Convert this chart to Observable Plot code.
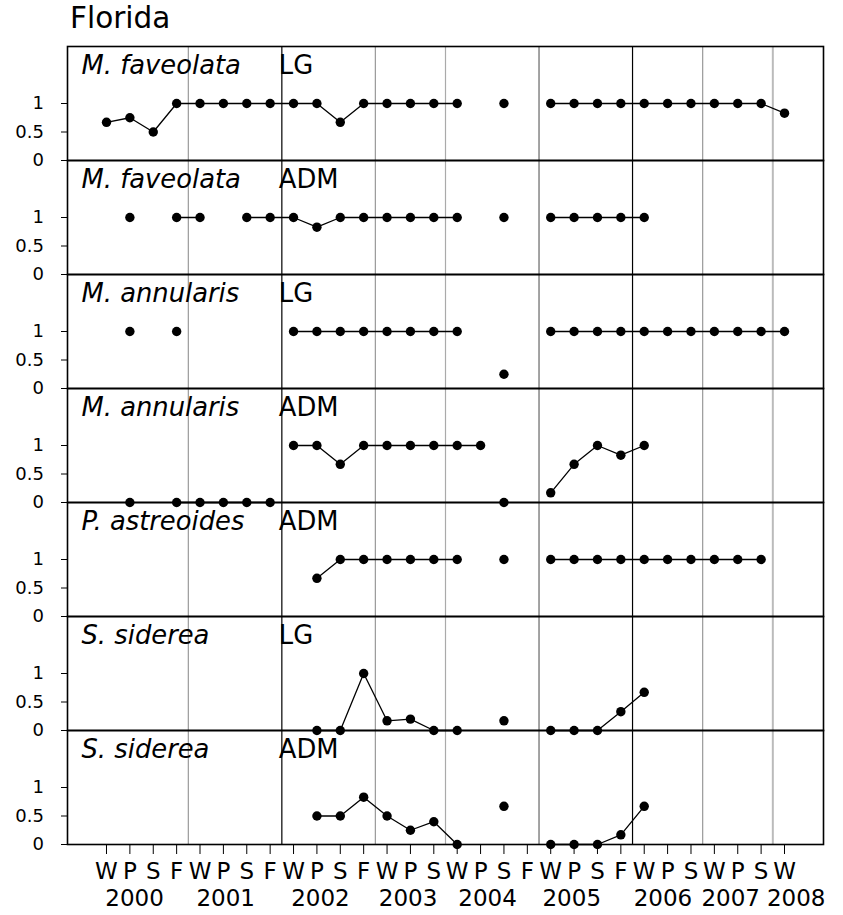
<!DOCTYPE html>
<html><head><meta charset="utf-8">
<script src="https://cdn.jsdelivr.net/npm/d3@7"></script>
<script src="https://cdn.jsdelivr.net/npm/@observablehq/plot@0.6"></script>
<style>
body{margin:0;background:#fff;font-family:"DejaVu Sans",sans-serif;}
#title{height:42px;position:relative;}
#title span{position:absolute;left:70px;top:4px;font-size:29.5px;line-height:29px;color:#000;}
</style></head><body>
<div id="title"><span>Florida</span></div>
<div id="chart"></div>
<script>
// x-axis categories
const seasons = ["W","P","S","F","W","P","S","F","W","P","S","F","W","P","S","W","P","S","F","W","P","S","F","W","P","S","W","P","S","W"];
const years = [2000,2001,2002,2003,2004,2005,2006,2007,2008];
const yearLabelAt = [1.2,5.1,9.15,12.9,16.3,19.9,23.8,26.7,29.5];
const yTicks = [0,0.5,1];

// panel labels
const species = ["M. faveolata","M. faveolata","M. annularis","M. annularis","P. astreoides","S. siderea","S. siderea"];
const methods = ["LG","ADM","LG","ADM","ADM","LG","ADM"];

// series values (null = no sample)
const mfavLG  = [0.67,0.75,0.5,1,1,1,1,1,1,1,0.67,1,1,1,1,1,null,1,null,1,1,1,1,1,1,1,1,1,1,0.83];
const mfavADM = [null,1,null,1,1,null,1,1,1,0.83,1,1,1,1,1,1,null,1,null,1,1,1,1,1,null,null,null,null,null,null];
const mannLG  = [null,1,null,1,null,null,null,null,1,1,1,1,1,1,1,1,null,0.25,null,1,1,1,1,1,1,1,1,1,1,1];
const mannADM = [null,0,null,0,0,0,0,0,1,1,0.67,1,1,1,1,1,1,0,null,0.17,0.67,1,0.83,1,null,null,null,null,null,null];
const pastADM = [null,null,null,null,null,null,null,null,null,0.67,1,1,1,1,1,1,null,1,null,1,1,1,1,1,1,1,1,1,1,null];
const ssidLG  = [null,null,null,null,null,null,null,null,null,0,0,1,0.17,0.2,0,0,null,0.17,null,0,0,0,0.33,0.67,null,null,null,null,null,null];
const ssidADM = [null,null,null,null,null,null,null,null,null,0.5,0.5,0.83,0.5,0.25,0.4,0,null,0.67,null,0,0,0,0.17,0.67,null,null,null,null,null,null];
// line breaks after these season indices (per panel)
const breaksAfter = [[],[],[],[7,16],[],[],[]];

const series = [mfavLG,mfavADM,mannLG,mannADM,pastADM,ssidLG,ssidADM];
const panelKeys = series.map((_,k)=>k);
const rows = [];
series.forEach((vals,k)=>{
  let seg = 0;
  vals.forEach((v,i)=>{
    rows.push({panel:k,i,v:v==null?NaN:v,seg});
    if (breaksAfter[k].includes(i)) seg++;
  });
});

// year boundaries (before each W except first)
const bounds = [];
let yi = 0;
seasons.forEach((s,i)=>{ if (s==="W" && i>0) { yi++; bounds.push({x:i-0.5, year:years[yi]}); } });
const boundColor = y => ({2002:"#000",2006:"#000",2005:"#666",2004:"#aaa",2008:"#bbb"})[y] || "#999";
const boundWidth = y => (y===2008 ? 2 : 1.2);
const methodX = bounds.find(b=>b.year===2002).x;

const pad = 1.668;
const fmtY = d => String(d);

const chart = Plot.plot({
  width:843, height:873,
  marginTop:1, marginBottom:69, marginLeft:67, marginRight:20,
  style:{fontFamily:"DejaVu Sans", color:"black", background:"white"},
  x:{domain:[-pad, seasons.length-1+pad]},
  y:{domain:[0,2]},
  fy:{domain:panelKeys, padding:0, axis:null},
  marks:[
    Plot.ruleX(bounds,{x:"x", stroke:d=>boundColor(d.year), strokeWidth:d=>boundWidth(d.year)}),
    Plot.frame({stroke:"black", strokeWidth:1.6}),
    Plot.axisY({ticks:yTicks, tickFormat:fmtY, tickSize:6, tickPadding:17.5, fontSize:18, label:null}),
    Plot.axisX({ticks:d3.range(seasons.length), tickFormat:i=>seasons[i], tickSize:10, tickPadding:8.5, fontSize:23, label:null}),
    Plot.axisX({ticks:yearLabelAt, tickFormat:d=>String(years[yearLabelAt.indexOf(d)]), tickSize:0, tickPadding:45, fontSize:23, label:null}),
    Plot.line(rows,{x:"i", y:"v", z:"seg", fy:"panel", stroke:"black", strokeWidth:1.3}),
    Plot.dot(rows.filter(d=>!isNaN(d.v)),{x:"i", y:"v", fy:"panel", r:4.7, fill:"black"}),
    Plot.text(panelKeys,{text:k=>species[k], fy:k=>k, frameAnchor:"top-left", lineAnchor:"top", textAnchor:"start", dx:14, dy:9, fontSize:25.8, fontStyle:"italic"}),
    Plot.text(panelKeys,{text:k=>methods[k], fy:k=>k, x:k=>methodX, frameAnchor:"top", lineAnchor:"top", textAnchor:"start", dx:-3, dy:9, fontSize:25.8})
  ]
});
document.getElementById("chart").appendChild(chart);
</script></body></html>
